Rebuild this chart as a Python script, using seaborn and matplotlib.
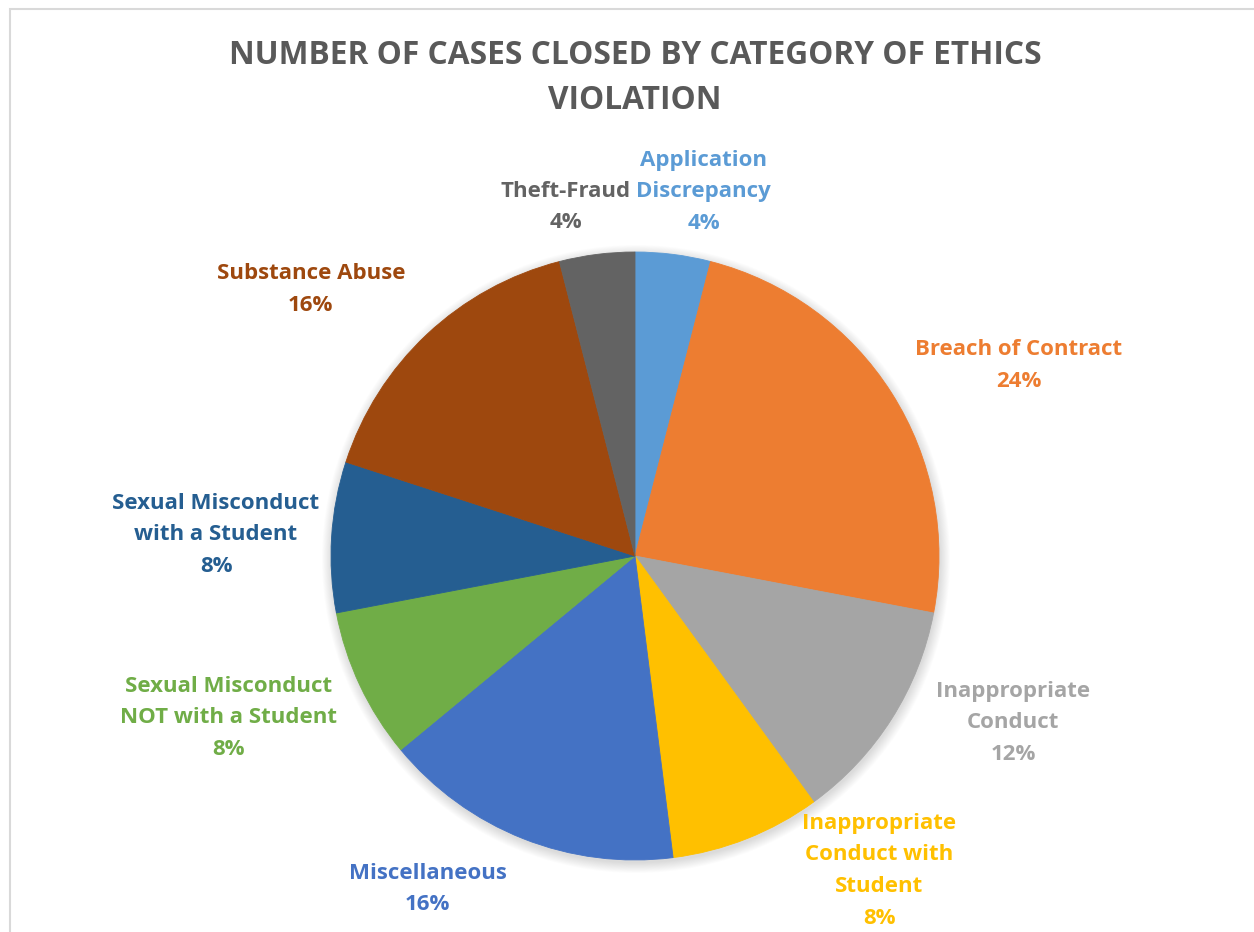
import numpy as np
import matplotlib
matplotlib.use("Agg")
import matplotlib.pyplot as plt
from matplotlib.patches import Circle, Rectangle
import seaborn as sns

# Ethics violation categories, clockwise from 12 o'clock
categories = [
    "Application\nDiscrepancy",
    "Breach of Contract",
    "Inappropriate\nConduct",
    "Inappropriate\nConduct with\nStudent",
    "Miscellaneous",
    "Sexual Misconduct\nNOT with a Student",
    "Sexual Misconduct\nwith a Student",
    "Substance Abuse",
    "Theft-Fraud",
]
shares = [4, 24, 12, 8, 16, 8, 8, 16, 4]
colors = ["#5B9BD5", "#ED7D31", "#A5A5A5", "#FFC000", "#4472C4",
          "#70AD47", "#255E91", "#9E480E", "#636363"]

# label placement: distance from centre (in radii) and angular nudge (deg)
label_dist = [1.22, 1.41, 1.36, 1.31, 1.29, 1.44, 1.38, 1.38, 1.17]
label_nudge = [3.5, 6.0, -8.6, -16.2, 10.3, 3.5, -0.7, -7.4, -4.0]

title = "NUMBER OF CASES CLOSED BY CATEGORY OF ETHICS\nVIOLATION"

sns.set_theme(style="white")
plt.rcParams["font.family"] = ["Open Sans", "DejaVu Sans"]

W, H = 1254, 932
fig = plt.figure(figsize=(W / 100, H / 100), dpi=100)
ax = fig.add_axes([0, 0, 1, 1])

# chart frame
ax.add_patch(Rectangle((10, -5), W, H - 9 + 5, fill=False,
                       edgecolor="#D9D9D9", lw=1.5))

cx, cy, R = 635, H - 556, 304

# soft drop shadow beneath the pie
for i in range(12):
    ax.add_patch(Circle((cx + 1, cy - 3), R + 10 - i * 0.9,
                        facecolor="#000000", alpha=0.012, lw=0, zorder=1))

wedges, _ = ax.pie(shares, colors=colors, startangle=90, counterclock=False,
                   center=(cx, cy), radius=R, frame=True,
                   wedgeprops=dict(linewidth=0.6))
for w, c in zip(wedges, colors):
    w.set_edgecolor(c)
    w.set_zorder(2)
ax.set_xlim(0, W)
ax.set_ylim(0, H)
ax.set_aspect("equal")
ax.axis("off")

total = sum(shares)
start = 0.0
for lab, val, col, d, nd in zip(categories, shares, colors, label_dist, label_nudge):
    mid = start + val / total * 360 / 2
    start += val / total * 360
    th = np.deg2rad(mid + nd)
    x = cx + R * d * np.sin(th)
    y = cy + R * d * np.cos(th)
    ax.text(x, y, f"{lab}\n{val / total * 100:.0f}%", ha="center", va="center",
            color=col, fontsize=16, fontweight="bold", linespacing=1.66,
            zorder=5)

ax.text(W / 2 + 8, H - 78, title, ha="center", va="center", color="#595959",
        fontsize=22.8, fontweight="bold", linespacing=1.5)

fig.savefig("out.png", dpi=100)
